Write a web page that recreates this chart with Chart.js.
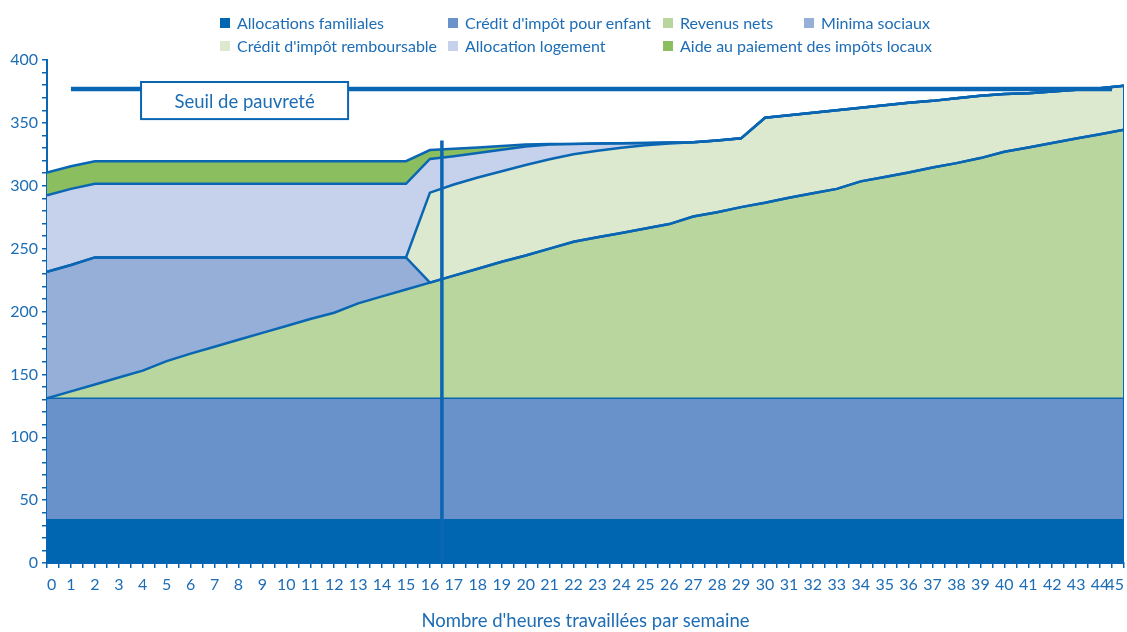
<!DOCTYPE html>
<html>
<head>
<meta charset="utf-8">
<script src="https://cdn.jsdelivr.net/npm/chart.js@4.4.1/dist/chart.umd.min.js"></script>
<style>
html,body{margin:0;padding:0;background:#fff;}
#wrap{position:relative;width:1127px;height:632px;overflow:hidden;}
#c{position:absolute;left:0;top:0;}
#legend{position:absolute;left:0;top:0;width:1127px;height:60px;font-family:Lato,sans-serif;font-size:16px;color:#1d6db5;}
.li{position:absolute;height:20px;display:flex;align-items:center;white-space:nowrap;}
.sw{display:inline-block;width:10px;height:10px;margin-right:7px;position:relative;top:1px;}
</style>
</head>
<body>
<div id="wrap"><canvas id="c" width="1127" height="632"></canvas><div id="legend"></div></div>
<script>
// ---- Data ----
const hours = [0,1,2,3,4,5,6,7,8,9,10,11,12,13,14,15,16,17,18,19,20,21,22,23,24,25,26,27,28,29,30,31,32,33,34,35,36,37,38,39,40,41,42,43,44,45];

const seriesNames = [
  "Allocations familiales",
  "Crédit d'impôt pour enfant",
  "Revenus nets",
  "Minima sociaux",
  "Crédit d'impôt remboursable",
  "Allocation logement",
  "Aide au paiement des impôts locaux"
];

const allocationsFamiliales = [35,35,35,35,35,35,35,35,35,35,35,35,35,35,35,35,35,35,35,35,35,35,35,35,35,35,35,35,35,35,35,35,35,35,35,35,35,35,35,35,35,35,35,35,35,35];
const creditImpotEnfant = [96,96,96,96,96,96,96,96,96,96,96,96,96,96,96,96,96,96,96,96,96,96,96,96,96,96,96,96,96,96,96,96,96,96,96,96,96,96,96,96,96,96,96,96,96,96];
const revenusNets = [0,5.5,11,16.5,22,29.5,35.5,41,46.5,52,57.5,63,68,75.5,81,86.5,92,97.5,103,108.5,113.5,119,124.5,128,131.5,135,138.5,144.5,148,152,155.5,159.5,163,166.5,172.5,176,179.5,183.5,187,191,196,199.5,203,206.5,210,213.5];
const minimaSociaux = [100.5,100.5,101,95.5,90,82.5,76.5,71,65.5,60,54.5,49,44,36.5,31,25.5,0,0,0,0,0,0,0,0,0,0,0,0,0,0,0,0,0,0,0,0,0,0,0,0,0,0,0,0,0,0];
const creditImpotRemboursable = [0,0,0,0,0,0,0,0,0,0,0,0,0,0,0,0,71.5,72.5,72.5,72,72,71,69.5,68.8,67.7,66.2,64.1,59,57,54.7,67.6,65.5,64,62.5,58.5,57,55.5,53,51.5,49.5,46,43,41,38.8,36.5,35];
const allocationLogement = [61,60.5,58.5,58.5,58.5,58.5,58.5,58.5,58.5,58.5,58.5,58.5,58.5,58.5,58.5,58.5,26.8,22.5,19.5,17.2,14.8,11.8,8.3,5.7,3.6,1.8,0.7,0,0,0,0,0,0,0,0,0,0,0,0,0,0,0,0,0,0,0];
const aideImpotsLocaux = [18,18,18,18,18,18,18,18,18,18,18,18,18,18,18,18,7.1,6,4.5,3,1.5,0.5,0,0,0,0,0,0,0,0,0,0,0,0,0,0,0,0,0,0,0,0,0,0,0,0];

const seuilLabel = "Seuil de pauvreté";
const seuilHours = [1, 44.5];
const seuilValues = [377, 377];
const markerHours = [16.5, 16.5];
const markerValues = [0, 336];

const xTitle = "Nombre d'heures travaillées par semaine";

// ---- Styles ----
const lineBlue = '#0a66b2';
const textBlue = '#1d6db5';
const fillColors = ['#0066b1', '#6892c9', '#b9d69f', '#95afd9', '#dde9cf', '#c6d1ec', '#8bbe5f'];
const borderWidths = [0, 1.5, 2.5, 2.5, 2.5, 2.5, 2.5];

const layers = [allocationsFamiliales, creditImpotEnfant, revenusNets, minimaSociaux, creditImpotRemboursable, allocationLogement, aideImpotsLocaux];

const datasets = layers.map((vals, i) => ({
  label: seriesNames[i],
  data: hours.map((h, j) => ({x: h, y: vals[j]})),
  backgroundColor: fillColors[i],
  borderColor: i === 0 ? fillColors[0] : lineBlue,
  borderWidth: borderWidths[i],
  fill: i === 0 ? 'origin' : '-1',
  pointRadius: 0,
  tension: 0,
  stack: 'revenu',
  borderJoinStyle: 'miter'
}));

// right closing edge of the stacked areas at the last hour
const lastIdx = hours.length - 1;
const topAtEnd = layers.reduce((s, arr) => s + arr[lastIdx], 0);
datasets.push({
  label: 'edge',
  data: [{x: hours[lastIdx], y: allocationsFamiliales[lastIdx]}, {x: hours[lastIdx], y: topAtEnd}],
  borderColor: lineBlue, borderWidth: 2, fill: false, pointRadius: 0, stack: 'edge', order: -1
});
datasets.push({
  label: seuilLabel,
  data: seuilHours.map((h, i) => ({x: h, y: seuilValues[i]})),
  borderColor: lineBlue, borderWidth: 4.5, fill: false, pointRadius: 0, stack: 'seuil', order: -2
});
datasets.push({
  label: 'marker',
  data: markerHours.map((h, i) => ({x: h, y: markerValues[i]})),
  borderColor: lineBlue, borderWidth: 3.5, fill: false, pointRadius: 0, stack: 'marker', order: -3
});

// ---- Legend (HTML, real text) ----
const legendCols = [220, 448, 663, 804];
const legendRows = [22, 45];
const legendSlots = [[0,0],[0,1],[0,2],[0,3],[1,0],[1,1],[1,2]];
const legendEl = document.getElementById('legend');
seriesNames.forEach((name, i) => {
  const [r, c] = legendSlots[i];
  const d = document.createElement('div');
  d.className = 'li';
  d.style.left = legendCols[c] + 'px';
  d.style.top = (legendRows[r] - 10) + 'px';
  const sw = document.createElement('span');
  sw.className = 'sw';
  sw.style.background = fillColors[i];
  const t = document.createElement('span');
  t.textContent = name;
  d.appendChild(sw); d.appendChild(t);
  legendEl.appendChild(d);
});

// ---- Poverty label box ----
const seuilBox = {
  id: 'seuilBox',
  afterDatasetsDraw(chart) {
    const {ctx, scales: {x, y}} = chart;
    const l = x.getPixelForValue(3.93), r = x.getPixelForValue(12.58);
    const t = y.getPixelForValue(382.5), b = y.getPixelForValue(353);
    ctx.save();
    ctx.fillStyle = '#ffffff';
    ctx.fillRect(l, t, r - l, b - t);
    ctx.strokeStyle = lineBlue;
    ctx.lineWidth = 2;
    ctx.strokeRect(l, t, r - l, b - t);
    ctx.fillStyle = textBlue;
    ctx.font = '18.5px Lato';
    ctx.textAlign = 'center';
    ctx.textBaseline = 'middle';
    ctx.fillText(seuilLabel, (l + r) / 2, (t + b) / 2 + 1);
    ctx.restore();
  }
};

new Chart(document.getElementById('c'), {
  type: 'line',
  data: {datasets},
  options: {
    responsive: false,
    animation: false,
    devicePixelRatio: 1,
    layout: {padding: {top: 60, right: 3, left: 0, bottom: 0}},
    plugins: {
      legend: {display: false},
      tooltip: {enabled: false},
      filler: {drawTime: 'beforeDatasetsDraw'}
    },
    scales: {
      x: {
        type: 'linear', min: 0, max: 45,
        border: {display: true, color: lineBlue, width: 2},
        grid: {drawOnChartArea: false, drawTicks: true, tickLength: 5, color: lineBlue, lineWidth: 1.5},
        ticks: {
          stepSize: 0.5, autoSkip: false, maxRotation: 0, minRotation: 0, padding: 7, align: 'inner',
          color: textBlue, font: {family: 'Lato', size: 16},
          callback: v => Number.isInteger(v) ? String(v) : ''
        },
        title: {display: true, text: xTitle, color: textBlue, font: {family: 'Lato', size: 18.5}, padding: {top: 0, bottom: 0}},
        afterFit: s => { s.height = 69; s.paddingLeft = 0; s.paddingRight = 0; }
      },
      y: {
        stacked: true, min: 0, max: 400,
        border: {display: true, color: lineBlue, width: 2},
        grid: {drawOnChartArea: false, drawTicks: true, tickLength: 5, color: lineBlue, lineWidth: 1.5},
        ticks: {
          stepSize: 10, autoSkip: false, padding: 4, color: textBlue, font: {family: 'Lato', size: 16},
          callback: v => (v % 50 === 0) ? String(v) : ''
        },
        afterFit: s => { s.width = 47; s.paddingTop = 0; s.paddingBottom = 0; }
      }
    }
  },
  plugins: [seuilBox]
});
</script>
</body>
</html>
